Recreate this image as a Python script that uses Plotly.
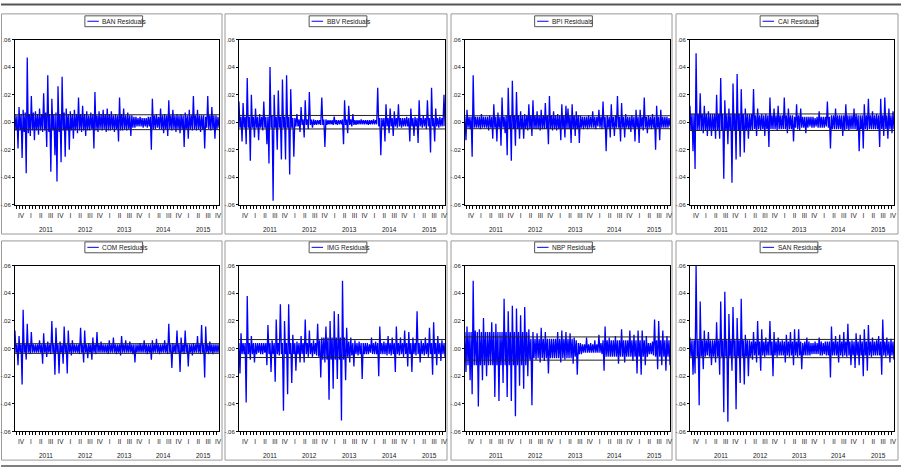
import numpy as np
import plotly.graph_objects as go

W, H = 904, 471

# ---------------- data ----------------
# Each panel: upper and lower excursions of the residuals in successive
# time slots, in thousandths (per-mille); the series alternates hi, lo.
panels = ["BAN", "BBV", "BPI", "CAI", "COM", "IMG", "NBP", "SAN"]

ban_hi = """6 5 11 6 9 7 47 6 19 7  8 6 10 6 21 7 34 6 17 6  7 26 6 33 7 10 6 8 6 9
6 18 6 12 6 8 5 7 6 22  5 8 6 9 6 10 6 8 5 6  5 18 6 10 5 7 5 5 4 4
3 4 3 3 3 4 4 17 5 6  4 10 5 6 5 16 5 9 5 6  5 6 5 7 5 9 5 19 5 9  5 5 5 4 19 5 11 5 5 4"""
ban_lo = """-6 -19 -6 -26 -7 -37 -8 -10 -6 -13  -6 -9 -6 -7 -6 -18 -7 -36 -6 -24
-43 -7 -29 -6 -25 -6 -20 -6 -12 -6  -8 -6 -7 -6 -10 -6 -6 -5 -19 -6
-7 -5 -6 -5 -7 -6 -6 -5 -7 -5  -14 -6 -6 -5 -6 -5 -10 -4 -4 -3
-3 -3 -4 -3 -4 -3 -20 -5 -5 -4  -5 -5 -8 -5 -10 -5 -6 -5 -7 -5
-8 -5 -18 -5 -12 -5 -6 -5 -6 -5  -7 -5 -19 -4 -5 -6 -5 -12 -5 -4"""

bbv_hi = """15 4 14 4 32 4 20 4 10 4  6 4 15 4 4 40 5 20 4 23  4 31 4 34 4 24 3 3 6 2
11 2 16 2 22 2 2 1.5 1.5 1.5  18 2 2 1.5 1.5 1.5 4 1.5 1.5 1.5
2 16 2 12 2 6 1.5 1.5 1.5 2  1.5 1.5 1.5 1.5 1.5 2 1.5 25 3 3
3 13 3 10 3 8 3 13 3 3  3 4 3 10 3 4 3 16 3 5  3 16 3 25 3 10 3 4 3 20"""
bbv_lo = """-4 -14 -4 -16 -4 -28 -4 -11 -4 -13  -4 -6 -4 -16 -30 -4 -57 -4 -20 -4
-27 -4 -27 -4 -38 -4 -25 -3 -3 -7  -2 -11 -2 -5 -2 -4 -2 -2 -1.5 -2
-2 -18 -2 -1.5 -1.5 -2 -1.5 -2 -1.5 -1.5  -16 -2 -8 -2 -3 -2 -2 -1.5 -1.5 -1.5
-1.5 -1.5 -2 -1.5 -1.5 -1.5 -1.5 -3 -24 -3  -14 -3 -8 -3 -10 -3 -4 -3 -4 -3
-3 -3 -14 -3 -10 -3 -15 -3 -4 -3  -5 -3 -22 -3 -14 -3 -4 -3 -3 -3"""

bpi_hi = """4 9 4 4 34 4 4 4 6 4  4 4 5 4 13 4 7 4 18 4  5 25 5 30 5 22 5 8 5 6
5 13 5 16 5 8 5 9 5 14  5 19 5 8 5 6 5 13 5 12  10 5 13 5 8 5 5 4 4 4
5 4 8 4 4 9 4 15 4 5  4 13 4 5 19 4 14 4 6 4  4 5 4 9 4 9 4 18 4 5  4 6 4 12 4 9 4 4 4 3"""
bpi_lo = """-13 -4 -5 -25 -4 -4 -4 -5 -4 -4  -4 -6 -4 -12 -4 -14 -4 -17 -4 -8
-24 -5 -28 -5 -17 -5 -12 -5 -12 -5  -6 -5 -10 -5 -5 -5 -6 -5 -5 -5
-16 -5 -6 -5 -6 -5 -13 -5 -11 -5  -5 -15 -5 -10 -5 -15 -4 -5 -4 -5
-4 -4 -4 -5 -3 -4 -5 -4 -21 -4  -11 -4 -10 -4 -4 -14 -4 -11 -4 -5
-7 -4 -14 -4 -15 -4 -6 -4 -8 -4  -5 -4 -20 -4 -13 -4 -4 -4 -4 -3"""

cai_hi = """12 6 6 50 6 21 6 12 6 8  6 6 6 20 6 32 6 16 6 10  6 28 6 35 6 24 6 10 6 6
6 24 5 10 5 6 5 6 5 18  5 10 5 12 5 5 18 5 10 5  5 4 13 5 10 4 4 4 4 4
4 3 4 8 4 4 4 15 4 5  5 10 5 5 5 5 13 5 5 5  10 6 5 5 5 13 5 17 5 8  5 6 5 17 5 18 5 10 5 8"""
cai_lo = """-6 -21 -34 -6 -6 -6 -8 -6 -10 -6  -10 -6 -12 -6 -12 -6 -41 -6 -16 -6
-44 -6 -27 -6 -25 -6 -22 -6 -12 -6  -6 -5 -10 -5 -6 -5 -10 -5 -18 -5
-5 -5 -6 -5 -5 -5 -5 -8 -5 -5  -14 -4 -5 -6 -4 -4 -8 -4 -3 -4
-4 -3 -4 -4 -4 -4 -3 -4 -19 -5  -5 -5 -5 -5 -10 -6 -5 -6 -5 -5
-5 -6 -21 -5 -19 -5 -6 -5 -5 -5  -5 -5 -18 -5 -10 -5 -12 -5 -8 -5"""

com_hi = """13 3 9 3 28 3 18 3 12 3  3 3 6 3 11 3 5 3 20 3  15 3 5 3 16 3 13 3 6 3
3 3 15 3 13 3 4 3 8 3  12 3 5 3 3 3 6 3 8 3  3 3 9 3 6 3 5 3 3 3
3 4 3 6 3 3 3 6 3 7  3 3 3 6 3 18 3 4 3 13  3 8 3 13 3 3 3 4 3 9  3 17 3 16 3 5 3 3 3 3"""
com_lo = """-3 -12 -3 -26 -3 -8 -3 -4 -3 -3  -3 -3 -3 -11 -3 -6 -3 -4 -3 -19
-3 -18 -3 -11 -3 -18 -3 -5 -3 -3  -3 -4 -3 -10 -3 -7 -3 -8 -3 -4
-3 -3 -3 -3 -3 -4 -3 -3 -3 -4  -3 -5 -3 -3 -3 -3 -3 -4 -10 -3
-3 -3 -3 -3 -4 -3 -8 -3 -3 -3  -4 -3 -3 -3 -4 -3 -14 -3 -4 -3
-17 -3 -4 -3 -13 -3 -5 -3 -3 -3  -4 -3 -21 -3 -4 -3 -4 -3 -3 -3"""

img_hi = """4 11 4 4 38 4 9 4 4 4  4 4 4 4 17 4 6 4 21 4  32 4 20 4 32 4 10 4 5 4
9 4 21 4 13 4 6 4 18 6  8 8 16 8 20 8 27 8 25 8  49 8 15 5 8 4 6 4 5 4
4 4 4 3 8 4 5 4 16 4  5 4 9 4 8 4 16 4 8 4  13 4 12 4 8 4 27 4 6 4  8 4 15 4 19 4 9 4 6 4"""
img_lo = """-18 -4 -4 -39 -4 -8 -4 -10 -4 -3  -4 -4 -3 -12 -4 -17 -4 -24 -4 -5
-4 -45 -4 -33 -4 -25 -4 -16 -4 -10  -4 -10 -4 -6 -4 -6 -4 -5 -6 -21
-8 -10 -8 -37 -8 -29 -8 -22 -8 -52  -8 -23 -6 -10 -5 -13 -4 -5 -4 -22
-4 -4 -4 -3 -4 -4 -4 -20 -4 -4  -4 -5 -4 -5 -4 -17 -4 -5 -4 -6
-4 -13 -4 -17 -4 -5 -4 -10 -4 -5  -4 -6 -4 -19 -4 -12 -4 -9 -4 -6"""

nbp_hi = """12 16 12 12 49 13 12 14 12 22  12 12 12 19 12 18 12 12 12 36
12 27 12 31 12 29 12 24 12 30  12 14 7 12 7 11 7 15 7 12  7 7 7 7 7 12 7 13 7 12
7 11 7 8 6 4 4 3 3 8  3 4 3 6 3 10 4 6 16 6  8 6 6 9 6 6 14 6 6 6
13 6 10 6 13 6 13 6 9 4  4 5 21 6 20 6 13 6 9 6"""
nbp_lo = """-17 -12 -23 -33 -12 -12 -42 -12 -23 -12  -20 -12 -12 -12 -35 -12 -38 -12 -25 -12
-35 -12 -38 -12 -49 -12 -27 -12 -29 -12  -20 -8 -41 -7 -8 -7 -10 -7 -9 -7
-18 -7 -7 -7 -7 -7 -10 -7 -8 -7  -7 -7 -11 -6 -19 -4 -4 -3 -3 -3
-3 -3 -3 -3 -3 -3 -4 -16 -6 -6  -6 -6 -6 -6 -11 -6 -6 -10 -6 -6
-6 -9 -6 -18 -6 -19 -6 -12 -6 -4  -4 -5 -6 -15 -6 -12 -6 -16 -6 -12"""

san_hi = """8 6 6 60 6 34 6 13 6 12  6 6 6 19 6 34 6 41 6 25  6 30 6 22 6 36 6 10 6 6
5 12 5 20 5 14 5 8 5 20  5 12 5 8 5 6 5 10 5 12  5 14 5 14 5 4 5 8 5 4
4 5 4 8 5 4 5 5 5 16  5 9 5 10 5 12 5 18 5 6  5 11 5 10 5 14 5 17 5 8  5 6 9 5 21 5 8 5 7 5"""
san_lo = """-6 -19 -18 -6 -41 -6 -15 -6 -5 -6  -12 -6 -10 -6 -19 -6 -46 -6 -53 -6
-16 -6 -44 -6 -25 -6 -26 -6 -20 -6  -8 -5 -10 -5 -16 -5 -6 -5 -5 -5
-20 -5 -6 -5 -5 -5 -10 -5 -6 -5  -12 -5 -6 -5 -15 -5 -5 -5 -5 -4
-4 -4 -4 -5 -5 -4 -5 -5 -21 -5  -5 -5 -10 -5 -6 -5 -6 -5 -12 -5
-14 -5 -12 -5 -20 -5 -16 -5 -6 -5  -5 -5 -5 -19 -5 -6 -5 -10 -5 -8"""

highs = [ban_hi, bbv_hi, bpi_hi, cai_hi, com_hi, img_hi, nbp_hi, san_hi]
lows = [ban_lo, bbv_lo, bpi_lo, cai_lo, com_lo, img_lo, nbp_lo, san_lo]

# +/- reference band drawn in each panel
bands = [0.0054, 0.0049, 0.0047, 0.0060, 0.0035, 0.0065, 0.0084, 0.0066]

quarter_labels = ["IV"] + ["I", "II", "III", "IV"] * 5
year_labels = ["2011", "2012", "2013", "2014", "2015"]
y_tickvals = [0.06, 0.04, 0.02, 0.0, -0.02, -0.04, -0.06]
y_ticktext = [".06", ".04", ".02", ".00", "-.02", "-.04", "-.06"]

# time axis measured in quarters from the start of 2010 Q4
OBS_START, OBS_END = -0.12, 20.6


def parse(s):
    return [float(t) / 1000.0 for t in s.split()]


def residuals(k):
    hi, lo = parse(highs[k]), parse(lows[k])
    n = min(len(hi), len(lo))
    out = []
    for a, b in zip(hi[:n], lo[:n]):
        out.extend([a, b])
    return out


# ---------------- layout geometry (pixels) ----------------
col_l = [14, 239, 466, 692]
col_r = [219, 446, 672, 897]
row_t = [37, 266]
row_b = [204.5, 434]
box_x = [(0.5, 222), (225, 448), (452, 674), (678, 901)]
box_y = [(11, 234), (241, 463)]
leg_y = [(13, 24), (242, 253)]
year_y = [229, 458]
FONT = "Liberation Sans, Arial, sans-serif"


def px(x):
    return x / W


def py(y):
    return 1 - y / H


fig = go.Figure()
shapes = []
annotations = []
layout = {}

for k, name in enumerate(panels):
    r, c = divmod(k, 4)
    sfx = "" if k == 0 else str(k + 1)
    vals = residuals(k)
    x = np.linspace(OBS_START, OBS_END, len(vals))
    fig.add_trace(go.Scatter(
        x=x, y=vals, mode="lines",
        line=dict(color="#0000ff", width=1.3),
        xaxis="x" + sfx, yaxis="y" + sfx,
        showlegend=False, hoverinfo="skip"))

    layout["xaxis" + sfx] = dict(
        domain=[px(col_l[c]), px(col_r[c])],
        range=[OBS_START, OBS_END], anchor="y" + sfx,
        showline=True, mirror=True, linecolor="#000", linewidth=1,
        showgrid=False, zeroline=False,
        tickmode="array", tickvals=[0.5 + i for i in range(len(quarter_labels))],
        ticktext=quarter_labels, ticks="", ticklabelstandoff=4,
        tickfont=dict(family=FONT, size=6.5, color="#222"),
        minor=dict(ticks="outside", dtick=1 / 3, tick0=0, ticklen=3,
                   tickcolor="#000", tickwidth=1, showgrid=False),
        fixedrange=True)
    layout["yaxis" + sfx] = dict(
        domain=[py(row_b[r]), py(row_t[r])],
        range=[-0.06, 0.06], anchor="x" + sfx,
        showline=True, mirror=True, linecolor="#000", linewidth=1,
        showgrid=False, zeroline=False,
        tickmode="array", tickvals=y_tickvals, ticktext=y_ticktext,
        ticks="outside", ticklen=2, tickcolor="#000",
        tickfont=dict(family=FONT, size=6, color="#222"),
        fixedrange=True)

    # reference band lines
    for b in (bands[k], -bands[k]):
        shapes.append(dict(type="line", xref="x" + sfx + " domain", yref="y" + sfx,
                           x0=0, x1=1, y0=b, y1=b, layer="above",
                           line=dict(color="#222", width=1)))

    # year labels
    for j, yl in enumerate(year_labels):
        annotations.append(dict(text=yl, xref="x" + sfx, yref="paper",
                                x=3 + 4 * j, y=py(year_y[r]), showarrow=False,
                                xanchor="center", yanchor="middle",
                                font=dict(family=FONT, size=6.5, color="#222")))

    # panel frame
    bx0, bx1 = box_x[c]
    by0, by1 = box_y[r]
    shapes.append(dict(type="rect", xref="paper", yref="paper",
                       x0=px(bx0), x1=px(bx1), y0=py(by1), y1=py(by0),
                       line=dict(color="#9a9a9a", width=1), layer="below"))

    # legend box
    lc = (bx0 + bx1) / 2 + 2
    lw = 58
    lx0 = lc - lw / 2
    ly0, ly1 = leg_y[r]
    shapes.append(dict(type="rect", xref="paper", yref="paper",
                       x0=px(lx0), x1=px(lx0 + lw), y0=py(ly1), y1=py(ly0),
                       line=dict(color="#555", width=1), fillcolor="white"))
    shapes.append(dict(type="line", xref="paper", yref="paper",
                       x0=px(lx0 + 2.5), x1=px(lx0 + 14), y0=py((ly0 + ly1) / 2),
                       y1=py((ly0 + ly1) / 2),
                       line=dict(color="#0000ff", width=1)))
    annotations.append(dict(text=name + " Residuals", xref="paper", yref="paper",
                            x=px(lx0 + 15.5), y=py((ly0 + ly1) / 2),
                            xanchor="left", yanchor="middle", showarrow=False,
                            font=dict(family=FONT, size=6.5, color="#222")))

# outer rules
shapes.append(dict(type="line", xref="paper", yref="paper", x0=0, x1=1,
                   y0=py(1.5), y1=py(1.5), line=dict(color="#555", width=2)))
shapes.append(dict(type="line", xref="paper", yref="paper", x0=0, x1=1,
                   y0=py(469), y1=py(469), line=dict(color="#555", width=1.5)))

fig.update_layout(
    width=W, height=H, margin=dict(l=0, r=0, t=0, b=0),
    paper_bgcolor="white", plot_bgcolor="white",
    showlegend=False, shapes=shapes, annotations=annotations,
    font=dict(family=FONT, size=6, color="#222"),
    **layout)

fig.write_html("out.html")
